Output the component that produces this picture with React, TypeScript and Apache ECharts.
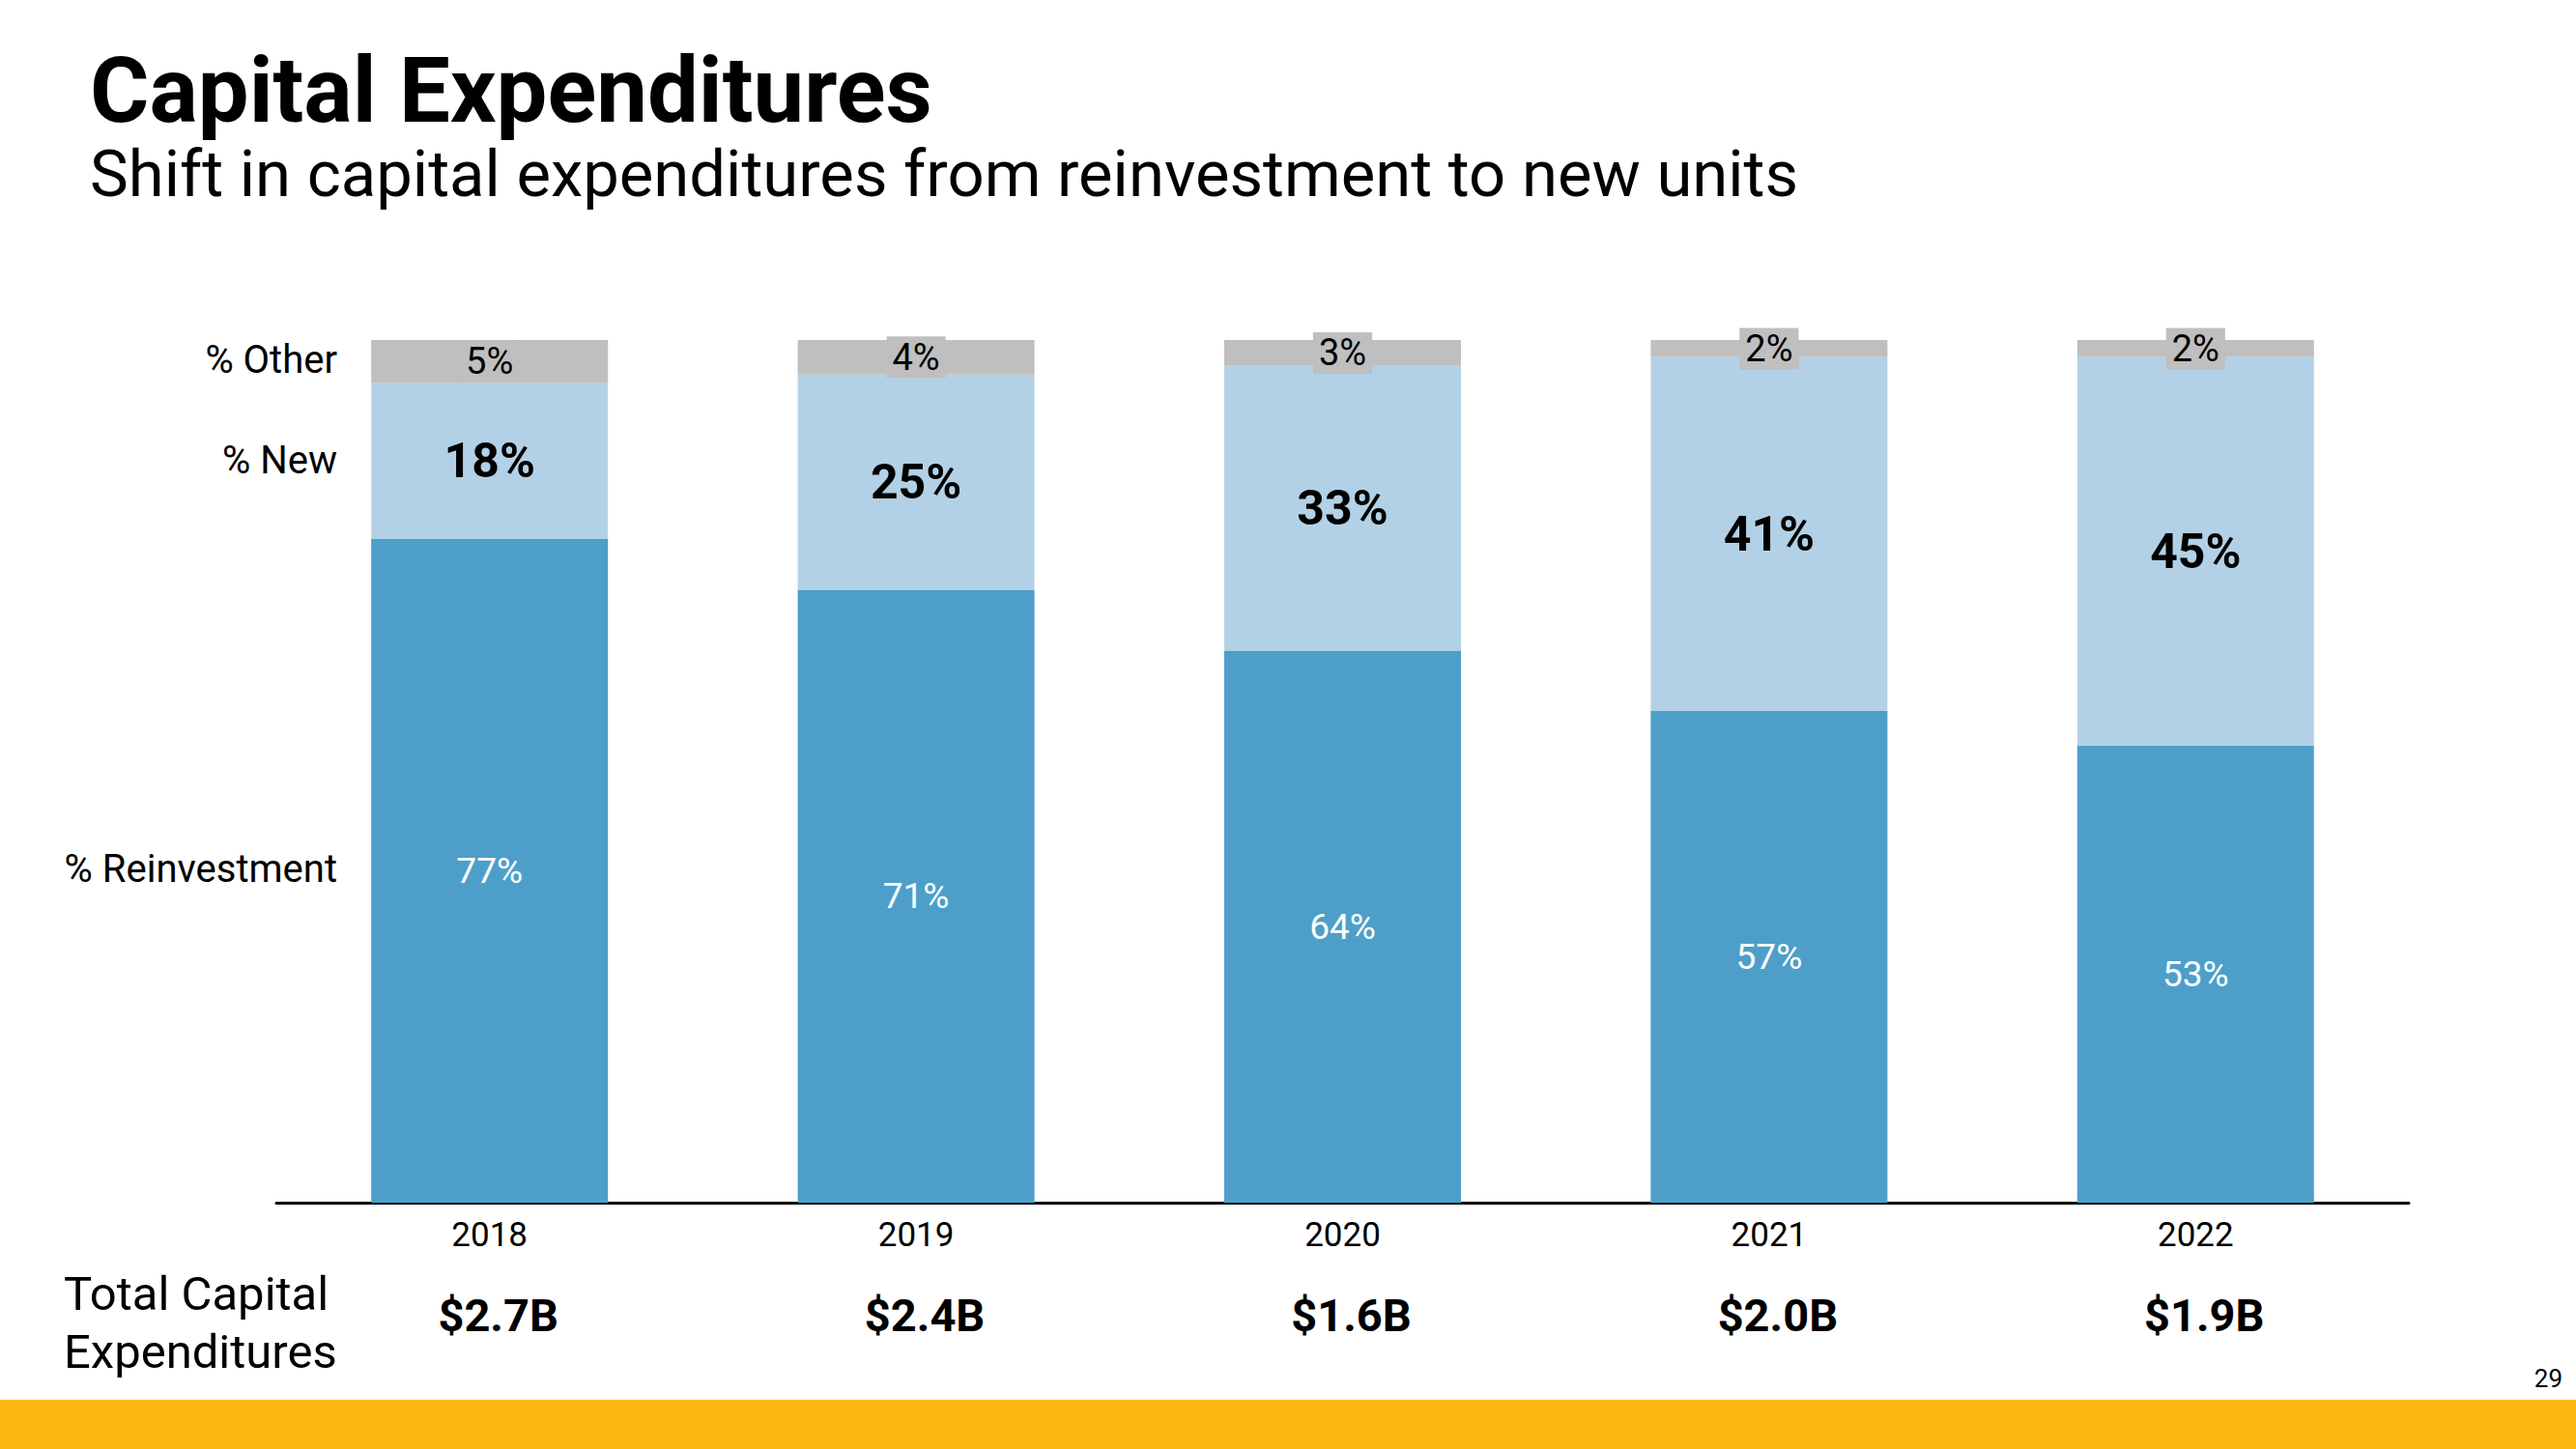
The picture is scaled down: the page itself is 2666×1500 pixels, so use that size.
import React, { useEffect, useRef } from "react";
import * as echarts from "echarts";

const years = ["2018", "2019", "2020", "2021", "2022"];
const reinvestment = [77, 71, 64, 57, 53];
const newUnits = [18, 25, 33, 41, 45];
const other = [5, 4, 3, 2, 2];
const totals = ["$2.7B", "$2.4B", "$1.6B", "$2.0B", "$1.9B"];
const rowLabels = ["% Other", "% New", "% Reinvestment"];
const titleText = "Capital Expenditures";
const subtitleText = "Shift in capital expenditures from reinvestment to new units";
const footLabel = ["Total Capital", "Expenditures"];
const pageNumber = "29";

const FONT = "Roboto";

export default function App() {
  const ref = useRef<HTMLDivElement>(null);
  useEffect(() => {
    document.body.style.margin = "0";
    const chart = echarts.init(ref.current!, null, { renderer: "svg" });
    const rowY = [372, 476, 899];
    chart.setOption({
      animation: false,
      backgroundColor: "#ffffff",
      textStyle: { fontFamily: FONT },
      grid: { left: 286, right: 173, top: 352, bottom: 255, containLabel: false },
      xAxis: [
        {
          type: "category",
          data: years,
          axisLine: { lineStyle: { color: "#000", width: 3 } },
          axisTick: { show: false },
          axisLabel: { color: "#000", fontSize: 35, margin: 16, fontFamily: FONT },
        },
        {
          type: "category",
          data: totals,
          position: "bottom",
          offset: 78,
          axisLine: { show: false },
          axisTick: { show: false },
          axisLabel: {
            color: "#000",
            fontSize: 47,
            fontWeight: "bold",
            margin: 15,
            fontFamily: FONT,
            padding: [0, 0, 0, 18],
          },
        },
      ],
      yAxis: {
        type: "value",
        min: 0,
        max: 100,
        show: false,
        splitLine: { show: false },
      },
      series: [
        {
          name: "% Reinvestment",
          type: "bar",
          stack: "capex",
          barWidth: 245,
          data: reinvestment,
          itemStyle: { color: "#4D9FC9" },
          label: {
            show: true,
            position: "inside",
            formatter: "{c}%",
            color: "#fff",
            fontSize: 37,
            fontFamily: FONT,
          },
        },
        {
          name: "% New",
          type: "bar",
          stack: "capex",
          barWidth: 245,
          data: newUnits,
          itemStyle: { color: "#B3D1E6" },
          label: {
            show: true,
            position: "inside",
            formatter: "{c}%",
            color: "#000",
            fontSize: 50,
            fontWeight: "bold",
            fontFamily: FONT,
          },
        },
        {
          name: "% Other",
          type: "bar",
          stack: "capex",
          barWidth: 245,
          data: other,
          itemStyle: { color: "#BFBFBF" },
          label: {
            show: true,
            position: "inside",
            formatter: "{c}%",
            color: "#000",
            fontSize: 38,
            fontFamily: FONT,
            backgroundColor: "#BFBFBF",
            padding: [3, 6, 2, 6],
          },
        },
      ],
      graphic: [
        {
          type: "text",
          x: 93,
          y: 94,
          style: {
            text: titleText,
            fill: "#000",
            fontFamily: FONT,
            fontSize: 94,
            lineHeight: 86,
            fontWeight: "bold",
            verticalAlign: "middle",
          },
        },
        {
          type: "text",
          x: 93,
          y: 180,
          style: {
            text: subtitleText,
            fill: "#000",
            fontFamily: FONT,
            fontSize: 67,
            lineHeight: 67,
            fontWeight: "normal",
            verticalAlign: "middle",
          },
        },
        ...rowLabels.map((t, i) => ({
          type: "text",
          x: 349,
          y: rowY[i],
          style: {
            text: t,
            fill: "#000",
            fontFamily: FONT,
            fontSize: 40,
            align: "right",
            verticalAlign: "middle",
          },
        })),
        ...footLabel.map((t, i) => ({
          type: "text",
          x: 66,
          y: 1339 + i * 60,
          style: {
            text: t,
            fill: "#000",
            fontFamily: FONT,
            fontSize: 49,
            align: "left",
            verticalAlign: "middle",
          },
        })),
        {
          type: "rect",
          shape: { x: 0, y: 1449, width: 2666, height: 51 },
          style: { fill: "#FDB913" },
        },
        {
          type: "text",
          x: 2652,
          y: 1427,
          style: {
            text: pageNumber,
            fill: "#000",
            fontFamily: FONT,
            fontSize: 26,
            align: "right",
            verticalAlign: "middle",
          },
        },
      ],
    });
    return () => chart.dispose();
  }, []);
  return (
    <div
      ref={ref}
      style={{ position: "absolute", left: 0, top: 0, width: 2666, height: 1500 }}
    />
  );
}
